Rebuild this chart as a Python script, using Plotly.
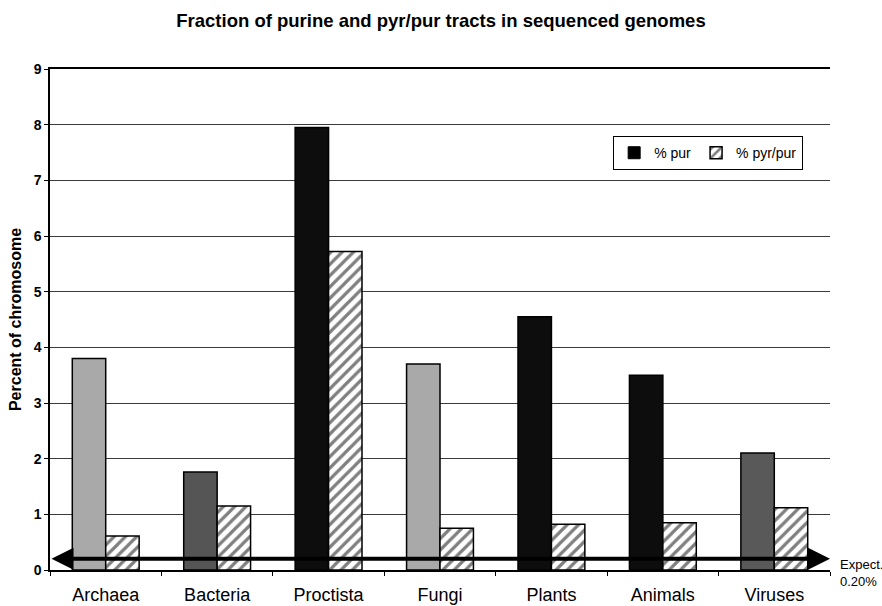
import plotly.graph_objects as go

# Genome groups and tract fractions (percent of chromosome)
groups = ["Archaea", "Bacteria", "Proctista", "Fungi", "Plants", "Animals", "Viruses"]
pur = [3.80, 1.76, 7.95, 3.70, 4.55, 3.50, 2.10]
pyr_pur = [0.61, 1.15, 5.72, 0.75, 0.82, 0.85, 1.12]
expected = 0.20
y_ticks = list(range(0, 10))

# per-group fill for the purine bars
pur_colors = ["#a9a9a9", "#555555", "#0d0d0d", "#a9a9a9", "#0d0d0d", "#0d0d0d", "#595959"]

FONT = "Liberation Sans, Arial, sans-serif"
HATCH = dict(shape="/", fgcolor="black", bgcolor="white", size=8, solidity=0.4)

fig = go.Figure()
fig.add_trace(go.Bar(
    x=groups, y=pur, name="% pur", offsetgroup="pur", showlegend=False,
    marker=dict(color=pur_colors, line=dict(color="black", width=1.5)),
))
# legend entry for the purine series, drawn in black
fig.add_trace(go.Bar(
    x=[groups[0]], y=[None], name="% pur", offsetgroup="pur", legendrank=1,
    marker=dict(color="black", line=dict(color="black", width=1)),
))
fig.add_trace(go.Bar(
    x=groups, y=pyr_pur, name="% pyr/pur", offsetgroup="pyr", legendrank=2,
    marker=dict(color="white", line=dict(color="black", width=1.5), pattern=HATCH),
))

# expected-value double arrow across the plot
fig.add_annotation(
    x=len(groups) - 0.5, y=expected, ax=-0.5, ay=expected,
    xref="x", yref="y", axref="x", ayref="y",
    text="", showarrow=True, arrowside="end+start",
    arrowhead=2, startarrowhead=2, arrowsize=1.1, startarrowsize=1.1,
    arrowwidth=4, arrowcolor="black",
)
fig.add_annotation(
    x=1.01, xref="paper", y=expected, yref="y", yshift=-14,
    text="Expect.<br>0.20%", showarrow=False, xanchor="left", yanchor="middle",
    align="left", font=dict(family=FONT, size=13, color="black"),
)

fig.update_layout(
    width=882, height=606,
    margin=dict(l=50, r=52, t=69, b=36),
    paper_bgcolor="white", plot_bgcolor="white",
    font=dict(family=FONT, color="black"),
    title=dict(
        text="<b>Fraction of purine and pyr/pur tracts in sequenced genomes</b>",
        x=0.5, xanchor="center", y=1 - 21 / 606, yanchor="middle",
        font=dict(size=18.5, family=FONT, color="black"),
    ),
    barmode="group", bargap=0.4, bargroupgap=0,
    showlegend=True,
    legend=dict(
        orientation="h", x=0.722, y=0.866, xanchor="left", yanchor="top",
        bordercolor="black", borderwidth=1, bgcolor="white",
        font=dict(size=14, family=FONT, color="black"),
        itemwidth=30,
    ),
)

fig.update_xaxes(
    type="category", range=[-0.5, len(groups) - 0.5],
    showline=True, linecolor="black", linewidth=1.5, mirror=True,
    ticks="outside", tickson="boundaries", ticklen=4, tickcolor="black",
    tickfont=dict(size=18, family=FONT, color="black"),
    ticklabelstandoff=8, automargin=False,
    showgrid=False,
)
fig.update_yaxes(
    range=[0, 9], tickvals=y_ticks,
    ticktext=[f"<b>{v}</b>" for v in y_ticks],
    showline=True, linecolor="black", linewidth=1.5,
    ticks="outside", ticklen=4, tickcolor="black",
    tickfont=dict(size=14, family=FONT, color="black"),
    showgrid=True, gridcolor="#3a3a3a", gridwidth=1,
    zeroline=False,
    title=dict(text="<b>Percent of chromosome</b>", font=dict(size=16, family=FONT), standoff=8),
)

fig.write_html("out.html")
